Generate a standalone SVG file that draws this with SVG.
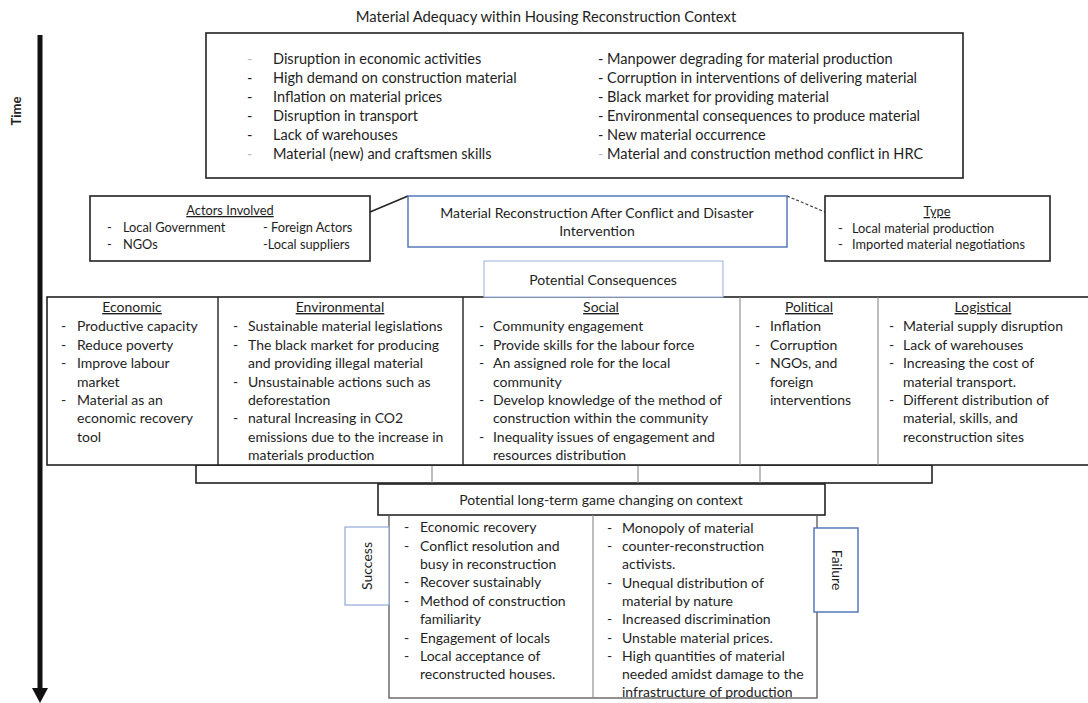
<svg xmlns="http://www.w3.org/2000/svg" width="1088" height="703" viewBox="0 0 1088 703">
<defs>
<style>
text{font-family:Lato,"Open Sans","Liberation Sans",sans-serif;fill:#1e1e1e;}
.t{font-size:14px;}
.tb{font-size:14.5px;}
.s{font-size:12.8px;}
.h{font-size:14px;text-decoration:underline;text-anchor:middle;}
.hs{font-size:12.8px;text-decoration:underline;text-anchor:middle;}
.c{text-anchor:middle;}
.box{fill:#fff;stroke:#222;stroke-width:1.6;}
.gbox{fill:none;stroke:#555;stroke-width:1.3;}
.blue{fill:#fff;stroke:#4a6fb5;stroke-width:1.4;}
.lblue{fill:#fff;stroke:#a9bde0;stroke-width:1.2;}
.sep{stroke:#222;stroke-width:1.4;}
.gsep{stroke:#888;stroke-width:1.1;}
.lt{fill:#bbb;}
</style>
</defs>
<rect width="1088" height="703" fill="#fff"/>

<g id="title">
<text x="546" y="22" class="c" style="font-size:14.8px">Material Adequacy within Housing Reconstruction Context</text>
</g>

<g id="time-axis">
<line x1="40" y1="35" x2="40" y2="690" stroke="#111" stroke-width="5"/>
<polygon points="32,688 48,688 40,703" fill="#111"/>
<text transform="translate(21,111) rotate(-90)" class="c" style="font-size:13px;font-weight:bold">Time</text>
</g>

<g id="context-box">
<rect x="206" y="33" width="757" height="145" class="box"/>
<g class="tb">
<text x="247" y="64" class="lt">-</text><text x="273" y="64">Disruption in economic activities</text>
<text x="247" y="83">-</text><text x="273" y="83">High demand on construction material</text>
<text x="247" y="102">-</text><text x="273" y="102">Inflation on material prices</text>
<text x="247" y="121">-</text><text x="273" y="121">Disruption in transport</text>
<text x="247" y="140">-</text><text x="273" y="140">Lack of warehouses</text>
<text x="247" y="159" class="lt">-</text><text x="273" y="159">Material (new) and craftsmen skills</text>
<text x="598" y="64">- Manpower degrading for material production</text>
<text x="598" y="83">- Corruption in interventions of delivering material</text>
<text x="598" y="102">- Black market for providing material</text>
<text x="598" y="121">- Environmental consequences to produce material</text>
<text x="598" y="140">- New material occurrence</text>
<text x="598" y="159"><tspan class="lt">-</tspan> Material and construction method conflict in HRC</text>
</g>
</g>

<g id="connectors">
<line x1="370" y1="212" x2="408" y2="196" stroke="#222" stroke-width="1.6"/>
<line x1="787" y1="196" x2="825" y2="212" stroke="#444" stroke-width="1.2" stroke-dasharray="3,2"/>
<rect x="196" y="465" width="736" height="18" class="box" fill="none"/>
<line x1="432" y1="465" x2="432" y2="483" class="gsep"/>
<line x1="638" y1="465" x2="638" y2="483" class="gsep"/>
<line x1="760" y1="465" x2="760" y2="483" class="gsep"/>
</g>

<g id="actors">
<rect x="90" y="196" width="280" height="65" class="box"/>
<text x="230" y="215" class="hs">Actors Involved</text>
<g class="s">
<text x="107" y="232">-</text><text x="123" y="232">Local Government</text>
<text x="107" y="249">-</text><text x="123" y="249">NGOs</text>
<text x="263" y="232">- Foreign Actors</text>
<text x="263" y="249">-Local suppliers</text>
</g>
</g>

<g id="intervention">
<rect x="408" y="196" width="379" height="51" class="blue"/>
<text x="597" y="218" class="t c">Material Reconstruction After Conflict and Disaster</text>
<text x="597" y="236" class="t c">Intervention</text>
</g>

<g id="type">
<rect x="825" y="196" width="225" height="65" class="box"/>
<text x="937" y="216" class="hs">Type</text>
<g class="s">
<text x="838" y="233">-</text><text x="852" y="233">Local material production</text>
<text x="838" y="249">-</text><text x="852" y="249">Imported material negotiations</text>
</g>
</g>

<g id="consequences-table">
<rect x="47" y="297" width="1045" height="168" class="box"/>
<line x1="218" y1="297" x2="218" y2="465" class="sep"/>
<line x1="463" y1="297" x2="463" y2="465" class="sep"/>
<line x1="740" y1="297" x2="740" y2="465" class="gsep"/>
<line x1="878" y1="297" x2="878" y2="465" class="gsep"/>
<g class="t">
<text x="132" y="312" class="h">Economic</text>
<text x="61" y="331">-</text><text x="77" y="331">Productive capacity</text>
<text x="61" y="350">-</text><text x="77" y="350">Reduce poverty</text>
<text x="61" y="368">-</text><text x="77" y="368">Improve labour</text>
<text x="77" y="387">market</text>
<text x="61" y="405">-</text><text x="77" y="405">Material as an</text>
<text x="77" y="423">economic recovery</text>
<text x="77" y="442">tool</text>

<text x="340" y="312" class="h">Environmental</text>
<text x="233" y="331">-</text><text x="248" y="331">Sustainable material legislations</text>
<text x="233" y="350">-</text><text x="248" y="350">The black market for producing</text>
<text x="248" y="368">and providing illegal material</text>
<text x="233" y="387">-</text><text x="248" y="387">Unsustainable actions such as</text>
<text x="248" y="405">deforestation</text>
<text x="233" y="423">-</text><text x="248" y="423">natural Increasing in CO2</text>
<text x="248" y="442">emissions due to the increase in</text>
<text x="248" y="460">materials production</text>

<text x="601" y="312" class="h">Social</text>
<text x="479" y="331">-</text><text x="493" y="331">Community engagement</text>
<text x="479" y="350">-</text><text x="493" y="350">Provide skills for the labour force</text>
<text x="479" y="368">-</text><text x="493" y="368">An assigned role for the local</text>
<text x="493" y="387">community</text>
<text x="479" y="405">-</text><text x="493" y="405">Develop knowledge of the method of</text>
<text x="493" y="423">construction within the community</text>
<text x="479" y="442">-</text><text x="493" y="442">Inequality issues of engagement and</text>
<text x="493" y="460">resources distribution</text>

<text x="809" y="312" class="h">Political</text>
<text x="755" y="331">-</text><text x="770" y="331">Inflation</text>
<text x="755" y="350">-</text><text x="770" y="350">Corruption</text>
<text x="755" y="368">-</text><text x="770" y="368">NGOs, and</text>
<text x="770" y="387">foreign</text>
<text x="770" y="405">interventions</text>

<text x="983" y="312" class="h">Logistical</text>
<text x="889" y="331">-</text><text x="903" y="331">Material supply disruption</text>
<text x="889" y="350">-</text><text x="903" y="350">Lack of warehouses</text>
<text x="889" y="368">-</text><text x="903" y="368">Increasing the cost of</text>
<text x="903" y="387">material transport.</text>
<text x="889" y="405">-</text><text x="903" y="405">Different distribution of</text>
<text x="903" y="423">material, skills, and</text>
<text x="903" y="442">reconstruction sites</text>
</g>
</g>

<g id="potential-consequences">
<rect x="484" y="261" width="239" height="36" class="lblue"/>
<text x="603" y="285" class="t c">Potential Consequences</text>
</g>

<g id="long-term">
<rect x="378" y="484" width="447" height="31" class="box"/>
<text x="601" y="505" class="t c">Potential long-term game changing on context</text>
</g>

<g id="outcomes">
<rect x="389" y="515" width="428" height="183" class="gbox"/>
<line x1="593" y1="515" x2="593" y2="698" class="gsep"/>
<g class="t">
<text x="404" y="532">-</text><text x="420" y="532">Economic recovery</text>
<text x="404" y="551">-</text><text x="420" y="551">Conflict resolution and</text>
<text x="420" y="569">busy in reconstruction</text>
<text x="404" y="587">-</text><text x="420" y="587">Recover sustainably</text>
<text x="404" y="606">-</text><text x="420" y="606">Method of construction</text>
<text x="420" y="624">familiarity</text>
<text x="404" y="643">-</text><text x="420" y="643">Engagement of locals</text>
<text x="404" y="661">-</text><text x="420" y="661">Local acceptance of</text>
<text x="420" y="679">reconstructed houses.</text>

<text x="607" y="533">-</text><text x="622" y="533">Monopoly of material</text>
<text x="607" y="551">-</text><text x="622" y="551">counter-reconstruction</text>
<text x="622" y="569">activists.</text>
<text x="607" y="588">-</text><text x="622" y="588">Unequal distribution of</text>
<text x="622" y="606">material by nature</text>
<text x="607" y="624">-</text><text x="622" y="624">Increased discrimination</text>
<text x="607" y="643">-</text><text x="622" y="643">Unstable material prices.</text>
<text x="607" y="661">-</text><text x="622" y="661">High quantities of material</text>
<text x="622" y="679">needed amidst damage to the</text>
<text x="622" y="697">infrastructure of production</text>
</g>
</g>

<g id="success">
<rect x="345" y="527" width="44" height="78" class="lblue" style="stroke:#8fa8d8"/>
<text transform="translate(372,566) rotate(-90)" class="t c">Success</text>
</g>

<g id="failure">
<rect x="814" y="528" width="44" height="84" class="blue"/>
<text transform="translate(832,570) rotate(90)" class="t c">Failure</text>
</g>
</svg>
